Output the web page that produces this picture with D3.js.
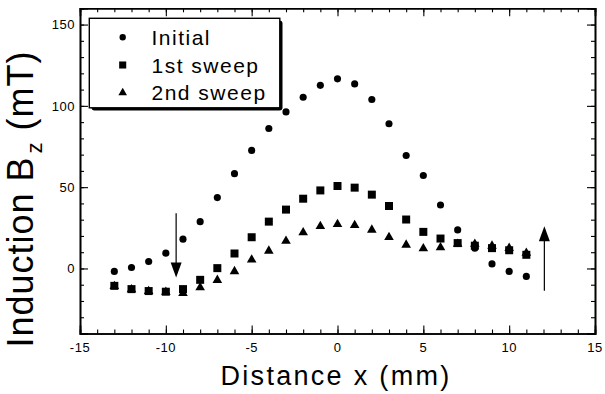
<!DOCTYPE html>
<html>
<head>
<meta charset="utf-8">
<script src="https://cdn.jsdelivr.net/npm/d3@7/dist/d3.min.js"></script>
<style>
  body { margin: 0; background: #fff; }
  text { font-family: "Liberation Sans", Arial, sans-serif; fill: #000; }
</style>
</head>
<body>
<div id="chart"></div>
<script>
// positions along x (mm)
var xPos = [-13, -12, -11, -10, -9, -8, -7, -6, -5, -4, -3, -2, -1, 0, 1, 2, 3, 4, 5, 6, 7, 8, 9, 10, 11];
// induction Bz (mT)
var initial = [-1.8, 0.6, 4.3, 9.4, 18, 28.8, 43.6, 58.3, 72.6, 86.1, 96.3, 105.3, 112.6, 116.6, 113.5, 103.9, 89, 69.5, 57.2, 39, 23.7, 12.5, 2.8, -1.8, -4.9];
var firstSweep = [-10.7, -12.7, -13.9, -14.3, -12.7, -7.0, 0.2, 9.2, 19.2, 28.8, 36.2, 42.9, 48, 50.7, 49.7, 45.4, 38.4, 30.1, 22.5, 18.4, 15.6, 14, 12.5, 11.2, 8.4];
var secondSweep = [-11, -13, -14, -14.5, -15.2, -11.7, -7.2, -1.8, 5.3, 10.8, 16.9, 22.1, 26, 27.2, 26.6, 23.7, 19.2, 14.5, 12.3, 12.9, 15, 15, 13.9, 12.5, 9.5];
var seriesNames = ["Initial", "1st sweep", "2nd sweep"];
var xTicks = [-15, -10, -5, 0, 5, 10, 15];
var yTicks = [0, 50, 100, 150];
// annotation arrows: x, from, to
var arrowX = [-9.4, 12.05];
var arrowFrom = [34, -13.7];
var arrowTo = [-5.5, 26];

var width = 605, height = 394;
var plotL = 80, plotR = 595, plotT = 8.3, plotB = 333.5;

var svg = d3.select("#chart").append("svg")
    .attr("width", width)
    .attr("height", height);

var x = d3.scaleLinear().domain([-15, 15]).range([plotL, plotR]);
var y = d3.scaleLinear().domain([-40, 160]).range([plotB, plotT]);

function minor(step, a, b) { return d3.range(a, b + 0.001, step); }

// bottom axis (ticks inward)
var gB = svg.append("g").attr("transform", "translate(0," + plotB + ")");
gB.call(d3.axisBottom(x).tickValues(minor(1, -15, 15)).tickSize(-4).tickFormat(""));
gB.call(g => g.append("g").call(d3.axisBottom(x).tickValues(xTicks).tickSize(-8).tickFormat("")));
// top axis
var gT = svg.append("g").attr("transform", "translate(0," + plotT + ")");
gT.call(d3.axisTop(x).tickValues(minor(1, -15, 15)).tickSize(-4).tickFormat(""));
gT.call(g => g.append("g").call(d3.axisTop(x).tickValues(xTicks).tickSize(-8).tickFormat("")));
// left axis
var gL = svg.append("g").attr("transform", "translate(" + plotL + ",0)");
gL.call(d3.axisLeft(y).tickValues(minor(10, -40, 160)).tickSize(-4).tickFormat(""));
gL.call(g => g.append("g").call(d3.axisLeft(y).tickValues(yTicks).tickSize(-8).tickFormat("")));
// right axis
var gR = svg.append("g").attr("transform", "translate(" + plotR + ",0)");
gR.call(d3.axisRight(y).tickValues(minor(10, -40, 160)).tickSize(-4).tickFormat(""));
gR.call(g => g.append("g").call(d3.axisRight(y).tickValues(yTicks).tickSize(-8).tickFormat("")));

svg.selectAll(".domain").attr("stroke", "#000").attr("stroke-width", 1.6);
svg.selectAll(".tick line").attr("stroke", "#000").attr("stroke-width", 1.1);

// tick labels
svg.selectAll(".xlab").data(xTicks).enter().append("text")
    .attr("x", d => x(d))
    .attr("y", plotB + 18.5)
    .attr("text-anchor", "middle")
    .style("font-size", "13px")
    .style("letter-spacing", "0.5px")
    .text(d => d);
svg.selectAll(".ylab").data(yTicks).enter().append("text")
    .attr("x", plotL - 5)
    .attr("y", d => y(d) + 4.7)
    .attr("text-anchor", "end")
    .style("font-size", "13px")
    .style("letter-spacing", "0.5px")
    .text(d => d);

// axis titles
svg.append("text")
    .attr("x", 336)
    .attr("y", 384.5)
    .attr("text-anchor", "middle")
    .style("font-size", "27px")
    .style("letter-spacing", "2.3px")
    .text("Distance x (mm)");

var yt = svg.append("text")
    .attr("transform", "translate(33,199) rotate(-90)")
    .attr("text-anchor", "middle")
    .style("font-size", "36px")
    .style("letter-spacing", "1px");
yt.append("tspan").text("Induction B");
yt.append("tspan").attr("dy", 9).attr("dx", 3).style("font-size", "22px").text("z");
yt.append("tspan").attr("dy", -9).text(" (mT)");

// markers
var sym = [d3.symbolCircle, d3.symbolSquare, d3.symbolTriangle];
var symSize = [40, 64, 40];
var allSeries = [initial, firstSweep, secondSweep];

allSeries.forEach(function(vals, i) {
  svg.append("g").selectAll("path")
    .data(vals)
    .enter().append("path")
    .attr("d", d3.symbol().type(sym[i]).size(symSize[i]))
    .attr("transform", (d, j) => "translate(" + x(xPos[j]) + "," + y(d) + ")")
    .attr("fill", "#000");
});

// arrows
arrowX.forEach(function(ax, i) {
  var x0 = x(ax), y0 = y(arrowFrom[i]), y1 = y(arrowTo[i]);
  var dir = y1 > y0 ? 1 : -1;
  svg.append("line")
    .attr("x1", x0).attr("x2", x0)
    .attr("y1", y0).attr("y2", y1 - dir * 12)
    .attr("stroke", "#000").attr("stroke-width", 1.2);
  svg.append("path")
    .attr("d", "M" + (x0 - 5.5) + "," + (y1 - dir * 15) + "L" + (x0 + 5.5) + "," + (y1 - dir * 15) + "L" + x0 + "," + y1 + "Z")
    .attr("fill", "#000");
});

// legend
var lg = svg.append("g");
lg.append("rect")
    .attr("x", 91.5).attr("y", 20.5).attr("width", 191).attr("height", 90)
    .attr("rx", 3)
    .attr("fill", "#000");
lg.append("rect")
    .attr("x", 89.3).attr("y", 18.3).attr("width", 190.5).attr("height", 89.5)
    .attr("fill", "#fff").attr("stroke", "#000").attr("stroke-width", 1.4);
var legSize = [32, 50, 32];
seriesNames.forEach(function(name, i) {
  var ly = 37.3 + i * 27.7;
  lg.append("path")
    .attr("d", d3.symbol().type(sym[i]).size(legSize[i]))
    .attr("transform", "translate(122.7," + ly + ")")
    .attr("fill", "#000");
  lg.append("text")
    .attr("x", 151.5)
    .attr("y", ly + 7.5)
    .style("font-size", "21px")
    .style("letter-spacing", "1.5px")
    .text(name);
});
</script>
</body>
</html>
